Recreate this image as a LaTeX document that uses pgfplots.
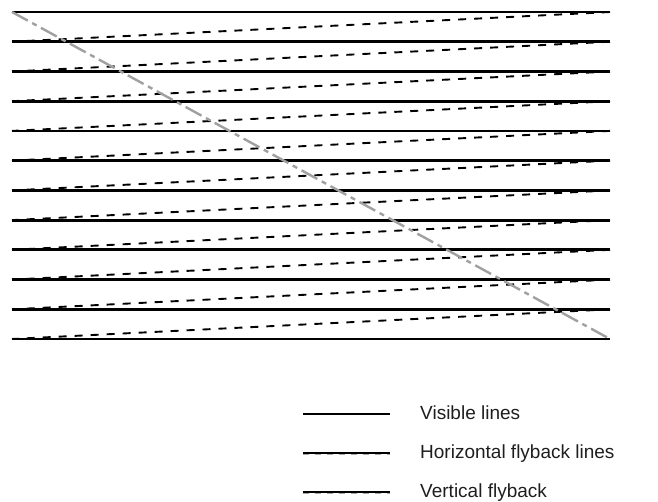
\documentclass[border=0pt]{standalone}
\usepackage{pgfplots}
\pgfplotsset{compat=1.18}
\usepackage{fontspec}
\setmainfont{Liberation Sans}
\definecolor{diag}{RGB}{160,160,160}
\definecolor{txt}{RGB}{30,30,30}
\begin{document}
\begin{tikzpicture}
\begin{axis}[
  x=1pt, y=1pt, y dir=reverse,
  xmin=0, xmax=658, ymin=0, ymax=501,
  axis lines=box, axis line style={draw=none}, ticks=none,
  clip=false,
  unbounded coords=jump,
  legend style={draw=none, fill=none, inner sep=0pt,
    at={(axis cs:302,405)}, anchor=north west,
    row sep=21pt, column sep=29pt,
    font=\fontsize{19}{23}\selectfont, text=txt,
    nodes={inner sep=0pt, text height=14pt, text depth=4pt}},
  legend cell align=left,
]
% visible lines
\addplot[black, line width=2.8pt, legend image code/.code={\draw[solid,black,line width=2pt] (0pt,0pt) -- (87pt,0pt);}] coordinates {
(12,12) (610,12) (nan,nan)
(12,41.7) (610,41.7) (nan,nan)
(12,71.5) (610,71.5) (nan,nan)
(12,101.2) (610,101.2) (nan,nan)
(12,130.9) (610,130.9) (nan,nan)
(12,160.6) (610,160.6) (nan,nan)
(12,190.4) (610,190.4) (nan,nan)
(12,220.1) (610,220.1) (nan,nan)
(12,249.8) (610,249.8) (nan,nan)
(12,279.6) (610,279.6) (nan,nan)
(12,309.3) (610,309.3) (nan,nan)
(12,339) (610,339)
};
\addlegendentry{Visible lines}
% horizontal flyback lines
\addplot[black, line width=1.9pt, dash pattern=on 8pt off 8pt, legend image code/.code={\draw[solid,black,line width=1.6pt] (0pt,0pt) -- (87pt,0pt);\draw[gray!70,line width=1.3pt,dash pattern=on 6pt off 6pt] (0pt,-1.4pt) -- (87pt,-1.4pt);}] coordinates {
(610,12) (12,41.7) (nan,nan)
(610,41.7) (12,71.5) (nan,nan)
(610,71.5) (12,101.2) (nan,nan)
(610,101.2) (12,130.9) (nan,nan)
(610,130.9) (12,160.6) (nan,nan)
(610,160.6) (12,190.4) (nan,nan)
(610,190.4) (12,220.1) (nan,nan)
(610,220.1) (12,249.8) (nan,nan)
(610,249.8) (12,279.6) (nan,nan)
(610,279.6) (12,309.3) (nan,nan)
(610,309.3) (12,339)
};
\addlegendentry{Horizontal flyback lines}
% vertical flyback
\addplot[diag, line width=2.4pt, dash pattern=on 18pt off 5pt on 5pt off 5pt, legend image code/.code={\draw[solid,black,line width=1.6pt] (0pt,0pt) -- (87pt,0pt);\draw[gray!70,line width=1.3pt,dash pattern=on 6pt off 6pt] (0pt,-1.4pt) -- (87pt,-1.4pt);}] coordinates {
(12,12) (610,339)
};
\addlegendentry{Vertical flyback}
\end{axis}
\end{tikzpicture}
\end{document}
